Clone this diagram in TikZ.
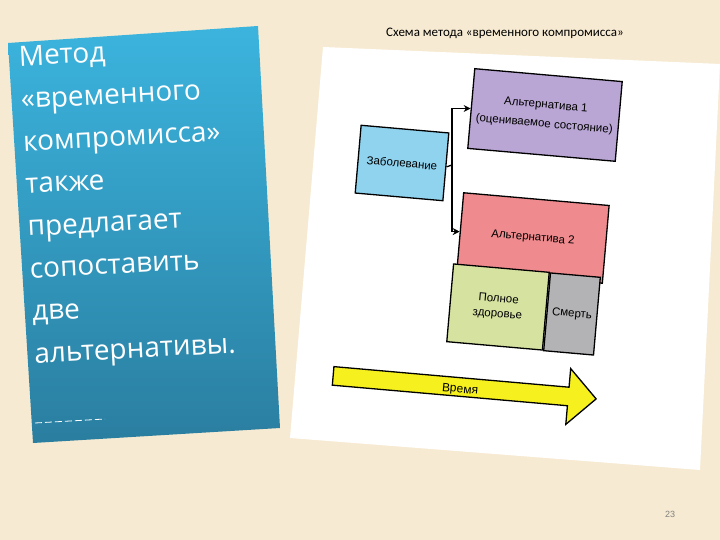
\documentclass[tikz,border=0pt]{standalone}
\usepackage{fontspec}
\setmainfont{Liberation Sans}
\newfontfamily\titlefont{Carlito}
\newfontfamily\panelfont{Open Sans}
\usetikzlibrary{shapes.arrows,arrows.meta}
\definecolor{bg}{HTML}{F7EAD2}
\definecolor{cblue}{HTML}{8FD3EF}
\definecolor{cpurple}{HTML}{B9A6D4}
\definecolor{cpink}{HTML}{EF8A8E}
\definecolor{cgreen}{HTML}{D6E2A0}
\definecolor{cgray}{HTML}{B3B3B5}
\definecolor{cyellow}{HTML}{F5F01E}
\definecolor{ptop}{HTML}{3BB4DE}
\definecolor{pbot}{HTML}{2A7EA0}
\begin{document}
\begin{tikzpicture}[x=1pt,y=1pt,
  box/.style={draw=black,line width=1.3pt,rotate=-5,align=center,inner sep=1pt,
    font=\fontsize{11.5}{15}\selectfont},
  conn/.style={line width=1.3pt,-{Stealth[length=7pt,width=7pt]}}]
\useasboundingbox (0,0) rectangle (720,540);
\fill[bg] (0,0) rectangle (720,540);
% left panel
\shade[top color=ptop,bottom color=pbot] (8,497) -- (258,514) -- (280,112) -- (33,97) -- cycle;
\node[anchor=north west,rotate=3,text=white,align=left,inner sep=0pt,
  font=\panelfont\fontsize{28}{42.5}\selectfont] (ptext) at (18,494)
  {Метод\\«временного\\компромисса»\\также\\предлагает\\сопоставить\\две\\альтернативы.};
\draw[white,dash pattern=on 7pt off 3pt,line width=0.8pt] (35,117) -- (105,121);
% title
\node[font=\titlefont\fontsize{13}{15}\selectfont] (title) at (505,507)
  {Схема метода «временного компромисса»};
% white picture
\fill[white] (323,493) -- (720,476) -- (700,70) -- (290,102) -- cycle;
% boxes
\node[box,fill=cblue,minimum width=88pt,minimum height=68pt] (zab) at (402,377) {Заболевание};
\node[box,fill=cpurple,minimum width=148pt,minimum height=80pt,
  font=\fontsize{11.5}{19}\selectfont] (a1) at (545,425)
  {Альтернатива 1\\(оцениваемое состояние)};
\node[box,fill=cpink,minimum width=146pt,minimum height=78pt] (a2) at (533,302) {Альтернатива 2};
\node[box,fill=cgreen,minimum width=96pt,minimum height=78pt] (hl) at (498,233) {Полное\\здоровье};
\node[box,fill=cgray,minimum width=50pt,minimum height=78pt] (dt) at (572,226) {Смерть};
\coordinate (j) at (452,375);
\draw[line width=1.3pt] (zab.east) -- (j);
\draw[conn] (j) |- (a1.west);
\draw[conn] (j) |- (a2.west);
% time arrow
\node[single arrow,draw=black,line width=1.3pt,fill=cyellow,rotate=-5,
  minimum height=264pt,minimum width=56pt,single arrow head extend=8pt] (time) at (460,153) {};
\node[rotate=-5,font=\fontsize{12}{13}\selectfont] (tl) at (460,150) {Время};
% page number
\node[text=gray,font=\fontsize{9}{10}\selectfont] (pg) at (670,26) {23};
\end{tikzpicture}
\end{document}
